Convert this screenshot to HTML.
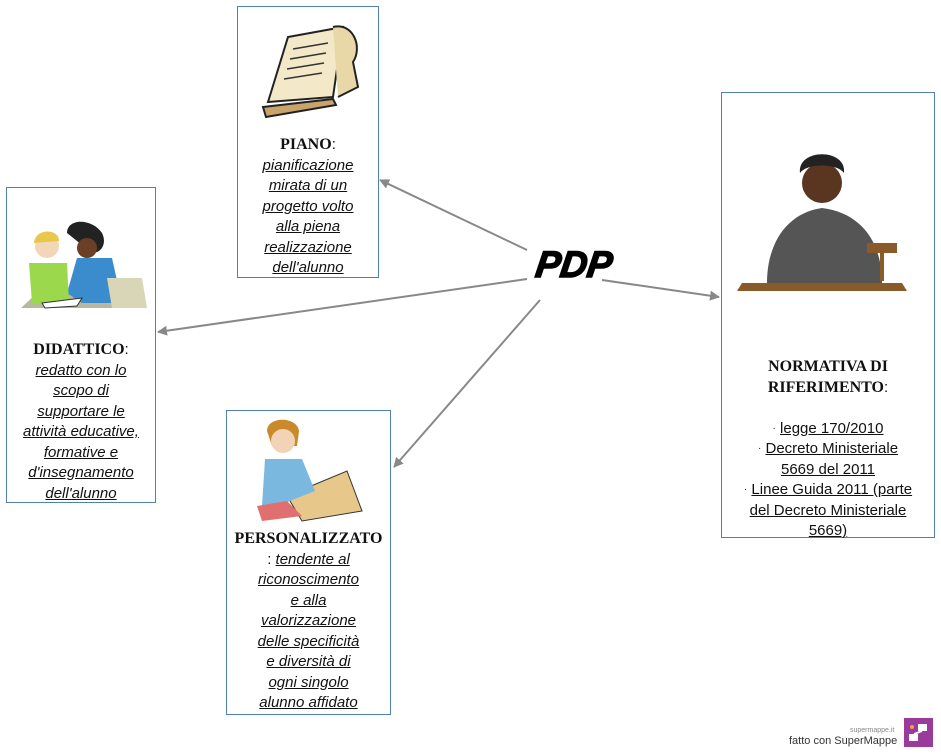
<!DOCTYPE html>
<html><head><meta charset="utf-8"><style>
body{margin:0;width:941px;height:756px;background:#fff;position:relative;overflow:hidden;font-family:"Liberation Sans",sans-serif}
.box{position:absolute;border:1.5px solid #4f7fb5;background:#fff;box-sizing:border-box}
.t{position:absolute;left:0;right:0;text-align:center;font-size:15px;line-height:20.5px;color:#111}
.t div{height:20.5px}
.t i{text-decoration:underline}
.h{font-family:"Liberation Serif",serif;font-weight:bold;font-size:16px}
.n{font-style:normal;text-decoration:underline}
.b{font-size:10px;vertical-align:top}
</style></head><body>
<svg width="941" height="756" style="position:absolute;left:0;top:0">
<defs><marker id="a" markerWidth="10" markerHeight="10" refX="9" refY="5" orient="auto" markerUnits="userSpaceOnUse"><path d="M0,0 L10,5 L0,10 z" fill="#888"/></marker></defs>
<g stroke="#888" stroke-width="2" fill="none">
<line x1="527" y1="250" x2="380" y2="180" marker-end="url(#a)"/>
<line x1="527" y1="279" x2="158" y2="332" marker-end="url(#a)"/>
<line x1="540" y1="300" x2="394" y2="467" marker-end="url(#a)"/>
<line x1="602" y1="280" x2="719" y2="297" marker-end="url(#a)"/>
</g>
</svg>
<div style="position:absolute;left:536px;top:244px;font:italic bold 37px 'Liberation Sans',sans-serif;letter-spacing:0px;-webkit-text-stroke:1.5px #000;transform:skewX(-8deg)">PDP</div>

<div class="box" style="left:237px;top:6px;width:142px;height:272px">
<svg width="140" height="120" style="position:absolute;left:0;top:0">
<path d="M30,95 L50,30 L105,20 L95,90 Z" fill="#f3e8c8" stroke="#222" stroke-width="2"/>
<path d="M95,20 C115,15 125,40 115,55 L120,80 L100,90" fill="#e8d8a8" stroke="#222" stroke-width="2"/>
<path d="M25,100 L95,92 L98,98 L28,110 Z" fill="#c9a46a" stroke="#222" stroke-width="2"/>
<g stroke="#333" stroke-width="1.5"><line x1="55" y1="42" x2="90" y2="36"/><line x1="52" y1="52" x2="88" y2="46"/><line x1="49" y1="62" x2="86" y2="56"/><line x1="46" y1="72" x2="84" y2="66"/></g>
</svg>
<div class="t" style="top:128px"><span class="h">PIANO</span>:<br><i>pianificazione </i><br><i>mirata di un </i><br><i>progetto volto </i><br><i>alla piena </i><br><i>realizzazione </i><br><i>dell'alunno</i></div>
</div>

<div class="box" style="left:6px;top:187px;width:150px;height:316px">
<svg width="148" height="120" style="position:absolute;left:0;top:20px">
<path d="M14,100 L30,85 L105,85 L115,100 Z" fill="#b8b89a"/>
<path d="M60,25 C60,10 85,10 95,25 C100,35 95,45 85,45 Z" fill="#222"/>
<circle cx="80" cy="40" r="10" fill="#6b3f25"/>
<path d="M70,50 L105,50 L115,95 L75,95 L60,85 Z" fill="#3a8ccc"/>
<path d="M100,70 L135,70 L140,100 L105,100 Z" fill="#d9d6b8"/>
<circle cx="40" cy="38" r="12" fill="#f2d6b8"/><path d="M27,35 C28,20 52,20 52,33 Z" fill="#e8c84a"/>
<path d="M22,55 L60,55 L62,95 L25,95 Z" fill="#9bd84c"/>
<path d="M35,95 L75,90 L70,98 L38,100 Z" fill="#fff" stroke="#333"/>
</svg>
<div class="t" style="top:152px"><span class="h">DIDATTICO</span>:<br><i>redatto con lo </i><br><i>scopo di </i><br><i>supportare le </i><br><i>attività educative, </i><br><i>formative e </i><br><i>d'insegnamento </i><br><i>dell'alunno</i></div>
</div>

<div class="box" style="left:226px;top:410px;width:165px;height:305px">
<svg width="163" height="115" style="position:absolute;left:0;top:0">
<path d="M60,85 L120,60 L135,100 L75,110 Z" fill="#e8c88a" stroke="#333"/>
<path d="M40,20 C40,5 70,5 72,20 L70,35 L45,35 Z" fill="#c98a2a"/>
<circle cx="56" cy="30" r="12" fill="#f3d3b5"/>
<path d="M38,48 L75,48 L88,80 L50,95 L35,95 Z" fill="#7ab8e0"/>
<path d="M30,95 L60,90 L75,105 L35,110 Z" fill="#e07070"/>
</svg>
<div class="t" style="top:118px"><span class="h">PERSONALIZZATO</span><br>: <i>tendente al </i><br><i>riconoscimento </i><br><i>e alla </i><br><i>valorizzazione </i><br><i>delle specificità </i><br><i>e diversità di </i><br><i>ogni singolo </i><br><i>alunno affidato</i></div>
</div>

<div class="box" style="left:721px;top:92px;width:214px;height:446px">
<svg width="212" height="210" style="position:absolute;left:0;top:0">
<path d="M15,198 L185,198 L180,190 L20,190 Z" fill="#8a5a2a"/>
<path d="M45,190 C45,150 65,120 100,115 C140,120 160,150 160,190 Z" fill="#555"/>
<circle cx="100" cy="90" r="20" fill="#5a3520"/>
<path d="M78,80 C75,55 125,55 122,80 C115,70 85,70 78,80 Z" fill="#222"/>
<rect x="145" y="150" width="30" height="10" fill="#8a5a2a"/><rect x="158" y="158" width="4" height="30" fill="#8a5a2a"/>
</svg>
<div class="t" style="top:264px"><div><span class="h">NORMATIVA DI</span></div><div><span class="h">RIFERIMENTO</span>:</div><div></div><div><span class="b">·</span> <span class="n">legge 170/2010</span></div><div><span class="b">·</span> <span class="n">Decreto Ministeriale </span></div><div><span class="n">5669 del 2011</span></div><div><span class="b">·</span> <span class="n">Linee Guida 2011 (parte </span></div><div><span class="n">del Decreto Ministeriale </span></div><div><span class="n">5669)</span></div></div>
</div>

<div style="position:absolute;left:850px;top:727px;font-size:7px;color:#888">supermappe.it</div>
<div style="position:absolute;left:789px;top:735px;font-size:11px;color:#333">fatto con SuperMappe</div>
<div style="position:absolute;left:904px;top:718px;width:29px;height:29px;background:#9a3a9a"></div>
<svg width="29" height="29" style="position:absolute;left:904px;top:718px"><rect x="14" y="6" width="9" height="7" fill="#fff"/><rect x="5" y="16" width="9" height="7" fill="#fff"/><line x1="18" y1="13" x2="10" y2="16" stroke="#fff" stroke-width="2"/><circle cx="8" cy="9" r="2" fill="#f4a040"/></svg>
</body></html>
